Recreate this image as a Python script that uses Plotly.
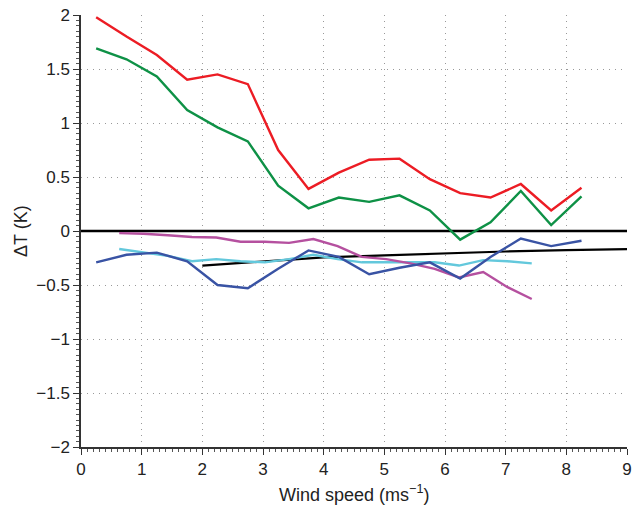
import plotly.graph_objects as go

# Bin-centred wind speeds (m/s)
x_bins = [0.25, 0.75, 1.25, 1.75, 2.25, 2.75, 3.25, 3.75, 4.25, 4.75, 5.25,
          5.75, 6.25, 6.75, 7.25, 7.75, 8.25]
red_vals = [1.98, 1.80, 1.63, 1.40, 1.45, 1.36, 0.75, 0.39, 0.54, 0.66, 0.67,
            0.48, 0.35, 0.31, 0.435, 0.19, 0.40]
green_vals = [1.69, 1.59, 1.43, 1.12, 0.96, 0.83, 0.42, 0.21, 0.31, 0.27, 0.33,
              0.19, -0.08, 0.08, 0.37, 0.055, 0.32]
blue_vals = [-0.29, -0.22, -0.20, -0.28, -0.50, -0.53, -0.35, -0.18, -0.24, -0.40,
             -0.34, -0.29, -0.44, -0.24, -0.07, -0.14, -0.09]

x_fine = [0.63, 1.03, 1.43, 1.83, 2.23, 2.63, 3.03, 3.43, 3.83, 4.23, 4.63,
          5.03, 5.43, 5.83, 6.23, 6.63, 7.03, 7.43]
magenta_vals = [-0.02, -0.025, -0.04, -0.056, -0.06, -0.10, -0.10, -0.11, -0.074,
                -0.14, -0.24, -0.26, -0.30, -0.35, -0.43, -0.38, -0.52, -0.63]
cyan_vals = [-0.167, -0.20, -0.23, -0.28, -0.26, -0.28, -0.29, -0.26, -0.22,
             -0.26, -0.29, -0.29, -0.29, -0.29, -0.32, -0.27, -0.28, -0.30]

fit_x = [2.0, 3.0, 4.0, 5.0, 6.0, 7.0, 8.0, 9.0]
fit_y = [-0.32, -0.28, -0.245, -0.225, -0.205, -0.19, -0.178, -0.167]

zero_x = [0, 9]
zero_y = [0, 0]

x_title = "Wind speed (ms<sup>−1</sup>)"
y_title = "ΔT (K)"

fig = go.Figure()
lw = 2.4
fig.add_trace(go.Scatter(x=zero_x, y=zero_y, mode="lines", line=dict(color="black", width=2.6)))
fig.add_trace(go.Scatter(x=fit_x, y=fit_y, mode="lines", line=dict(color="black", width=2.2)))
fig.add_trace(go.Scatter(x=x_fine, y=cyan_vals, mode="lines", line=dict(color="#63c8dc", width=lw)))
fig.add_trace(go.Scatter(x=x_fine, y=magenta_vals, mode="lines", line=dict(color="#b5509f", width=lw)))
fig.add_trace(go.Scatter(x=x_bins, y=blue_vals, mode="lines", line=dict(color="#3953a4", width=lw)))
fig.add_trace(go.Scatter(x=x_bins, y=green_vals, mode="lines", line=dict(color="#0e9146", width=lw)))
fig.add_trace(go.Scatter(x=x_bins, y=red_vals, mode="lines", line=dict(color="#ec1c24", width=lw)))

font = "Liberation Sans, Arial, Helvetica, sans-serif"
fig.update_layout(
    width=633, height=505,
    margin=dict(l=81, r=6, t=15, b=58, autoexpand=False),
    paper_bgcolor="white", plot_bgcolor="white",
    showlegend=False,
    font=dict(family=font, size=17, color="#222"),
    xaxis=dict(
        range=[0, 9], dtick=1, tick0=0, automargin=False,
        showline=True, linecolor="#333", linewidth=1.5,
        ticks="outside", ticklen=6, tickcolor="#333",
        showgrid=True, gridcolor="#999", gridwidth=1, griddash="1px,5px",
        zeroline=False,
        minor=dict(dtick=0.1, ticks="outside", ticklen=3, tickcolor="#555", showgrid=False),
    ),
    yaxis=dict(
        range=[-2, 2], dtick=0.5, tick0=0, automargin=False,
        showline=True, linecolor="#333", linewidth=1.5,
        ticks="outside", ticklen=6, tickcolor="#333",
        showgrid=True, gridcolor="#999", gridwidth=1, griddash="1px,5px",
        zeroline=False,
        minor=dict(dtick=0.05, ticks="outside", ticklen=3, tickcolor="#555", showgrid=False),
    ),
    annotations=[
        dict(text=x_title, xref="paper", yref="paper", x=0.5, y=-0.107,
             xanchor="center", yanchor="middle", showarrow=False,
             font=dict(size=18, color="#222")),
        dict(text=y_title, xref="paper", yref="paper", x=-0.11, y=0.5,
             xanchor="center", yanchor="middle", showarrow=False, textangle=-90,
             font=dict(size=18, color="#222")),
    ],
)

fig.write_html("out.html")
